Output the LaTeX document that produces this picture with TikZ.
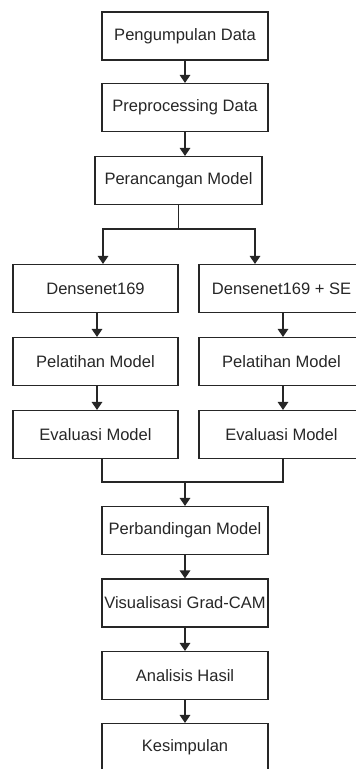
\documentclass[tikz,border=0pt]{standalone}
\usepackage{fontspec}
\setmainfont{Liberation Sans}
\usetikzlibrary{arrows.meta, calc}

\tikzset{
  stepbox/.style={draw=black!85, line width=0.9pt, minimum width=124.5pt, minimum height=36pt, inner sep=0.75pt, font=\fontsize{12.4}{14}\selectfont, text=black!85},
  sidebox/.style={stepbox, minimum width=123.75pt},
  arr/.style={draw=black!85, line width=0.9pt, -{Triangle[width=8pt,length=6pt]}},
  ln/.style={draw=black!85, line width=0.9pt}
}

\begin{document}
\begin{tikzpicture}[x=0.75pt,y=0.75pt,yscale=-1,xscale=1]
%set diagram frame: 356 x 769, right column and last box run off the edge
\useasboundingbox (0,0) rectangle (356,769);
\clip (0,0) rectangle (356,769);

% Main column
\node [stepbox] (pengumpulan) at (185,36) {Pengumpulan Data};
\node [stepbox] (preprocessing) at (185,107.5) {Preprocessing Data};
\node [stepbox, minimum width=125.25pt] (perancangan) at (178.5,180.5) {Perancangan Model};

% Left column
\node [sidebox] (densenet) at (95.5,288.5) {Densenet169};
\node [sidebox] (pelatihanA) at (95.5,361.5) {Pelatihan Model};
\node [sidebox] (evaluasiA) at (95.5,434.5) {Evaluasi Model};

% Right column
\node [sidebox] (densenetSE) at (281.5,288.5) {Densenet169 + SE};
\node [sidebox] (pelatihanB) at (281.5,361.5) {Pelatihan Model};
\node [sidebox] (evaluasiB) at (281.5,434.5) {Evaluasi Model};

% Lower column
\node [stepbox] (perbandingan) at (185,530.5) {Perbandingan Model};
\node [stepbox] (visualisasi) at (185,603) {Visualisasi Grad-CAM};
\node [stepbox] (analisis) at (185,675.5) {Analisis Hasil};
\node [stepbox] (kesimpulan) at (185,747.5) {Kesimpulan};

\coordinate (split) at (178.5,229);
\coordinate (merge) at (185,482);

% Arrows
\draw [arr] (pengumpulan) -- (preprocessing);
\draw [arr] (preprocessing.south) -- (preprocessing.south |- perancangan.north);
\draw [ln] (perancangan) -- (split);
\draw [arr] (split) -| ($(densenet.north)+(7.5,0)$);
\draw [arr] (split) -| ($(densenetSE.north)+(-26.5,0)$);
\draw [arr] ($(densenet.south)+(1.5,0)$) -- ($(pelatihanA.north)+(1.5,0)$);
\draw [arr] ($(pelatihanA.south)+(1.5,0)$) -- ($(evaluasiA.north)+(1.5,0)$);
\draw [arr] ($(densenetSE.south)+(1.5,0)$) -- ($(pelatihanB.north)+(1.5,0)$);
\draw [arr] ($(pelatihanB.south)+(1.5,0)$) -- ($(evaluasiB.north)+(1.5,0)$);
\draw [ln] ($(evaluasiA.south)+(6.5,0)$) |- (merge) -| ($(evaluasiB.south)+(1.5,0)$);
\draw [arr] (merge) -- (perbandingan);
\draw [arr] (perbandingan) -- (visualisasi);
\draw [arr] (visualisasi) -- (analisis);
\draw [arr] (analisis) -- (kesimpulan);

\end{tikzpicture}
\end{document}
